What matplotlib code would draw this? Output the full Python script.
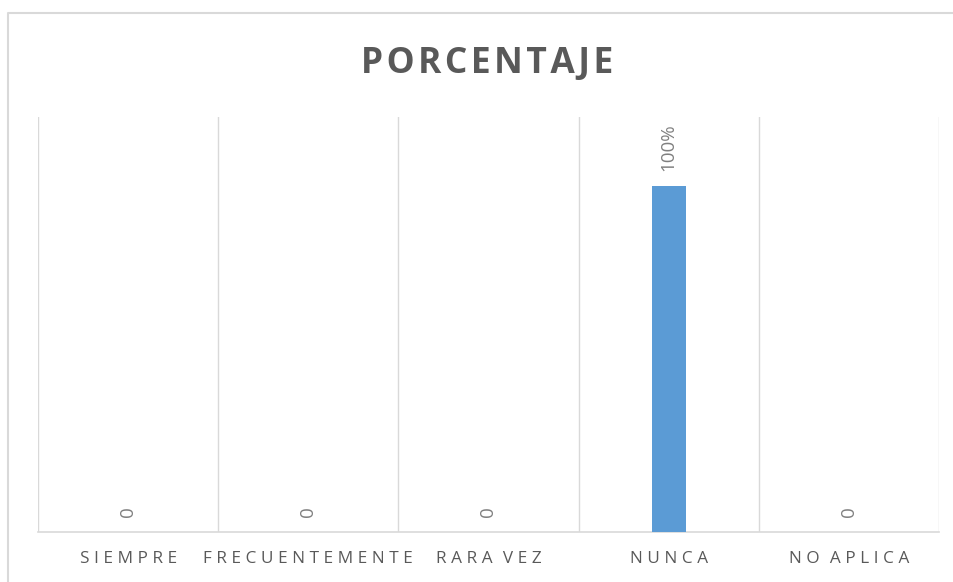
import matplotlib
matplotlib.use("Agg")
import matplotlib.pyplot as plt
from matplotlib.lines import Line2D

# porcentaje por respuesta
categorias = ["SIEMPRE", "FRECUENTEMENTE", "RARA VEZ", "NUNCA", "NO APLICA"]
valores = [0, 0, 0, 1, 0]
etiquetas = ["0", "0", "0", "100%", "0"]

plt.rcParams['font.family'] = ['Open Sans', 'DejaVu Sans']


def espaciar(txt, sep="\u2009"):
    # separa letras; entre palabras un hueco algo mayor
    return "\u2009 \u2009".join(sep.join(p) for p in txt.split(" "))


fig = plt.figure(figsize=(9.54, 5.82), dpi=100)
ax = fig.add_axes([38 / 954, 50 / 582, 901 / 954, 415 / 582])

x = list(range(len(categorias)))
ax.bar(x, valores, width=0.19, color='#5B9BD5', zorder=3)

for xi, v, lab in zip(x, valores, etiquetas):
    ax.annotate(lab, (xi, v), xytext=(0, 11), textcoords='offset points',
                rotation=90, ha='center', va='bottom', fontsize=13.5, color='#7f7f7f')

ax.set_xlim(-0.5, len(categorias) - 0.5)
ax.set_ylim(0, 1.2)
ax.set_yticks([])
ax.set_xticks(x)
ax.set_xticklabels([espaciar(c, "\u2009\u200a") for c in categorias], fontsize=12.3, color='#595959')
ax.tick_params(axis='x', length=0, pad=14)

# separadores verticales entre categorias
for b in [i - 0.5 for i in range(len(categorias) + 1)]:
    ax.axvline(b, color='#d9d9d9', linewidth=1.0, zorder=1)

for s in ['top', 'left', 'right']:
    ax.spines[s].set_visible(False)
ax.spines['bottom'].set_color('#d9d9d9')
ax.spines['bottom'].set_linewidth(1.2)

fig.text(487 / 954, 1 - 73 / 582, "\u200a".join("PORCENTAJE"), ha='center', va='baseline',
         fontsize=25.5, fontweight='bold', color='#595959')

# borde del grafico
fig.add_artist(Line2D([8 / 954, 8 / 954, 1.0], [0.0, 1 - 13 / 582, 1 - 13 / 582],
                      transform=fig.transFigure, color='#d9d9d9', linewidth=1.5))

fig.savefig("out.png", dpi=100)
